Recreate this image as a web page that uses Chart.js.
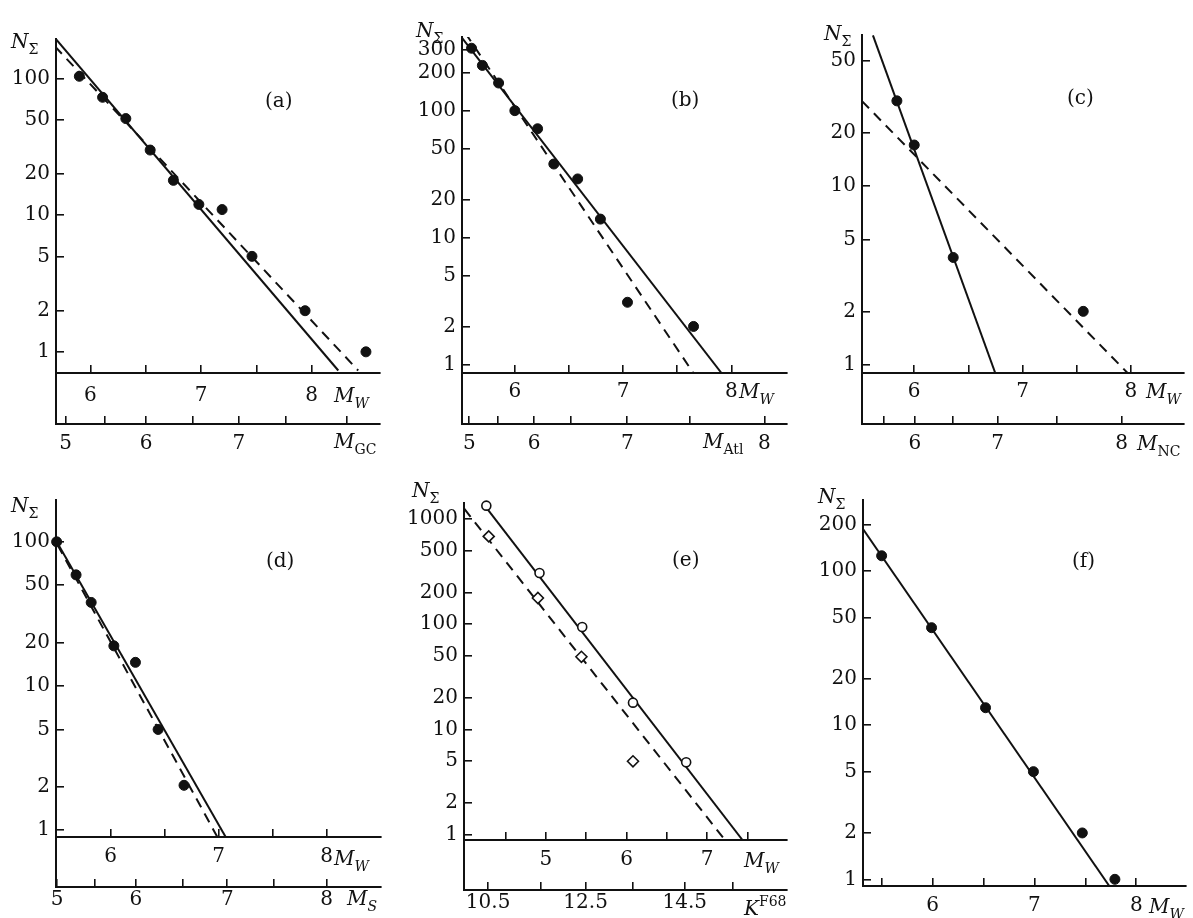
<!DOCTYPE html>
<html>
<head>
<meta charset="utf-8">
<script src="https://cdn.jsdelivr.net/npm/chart.js@4.4.1/dist/chart.umd.min.js"></script>
<style>
  html, body { margin: 0; padding: 0; background: #fff; }
  #page { position: relative; width: 1193px; height: 918px; overflow: hidden;
          font-family: 'DejaVu Serif', 'Liberation Serif', serif; color: #111; }
  .panel { position: absolute; }
  .t { position: absolute; font-size: 20px; line-height: 1; white-space: nowrap; }
  .t i { font-style: italic; }
  .sb { font-size: 14px; position: relative; top: 6px; }
  .sp { font-size: 14px; position: relative; top: -9px; }
</style>
</head>
<body>
<div id="page"></div>
<script>
// (a) cumulative number vs M_W, with M_GC scale below
const aMw = [5.90, 6.11, 6.32, 6.54, 6.75, 6.98, 7.19, 7.46, 7.94, 8.49];
const aN = [104, 73, 51, 30, 18, 12, 11, 5, 2, 1];
const aSolidMw = [5.69, 8.24], aSolidN = [194, 0.73];
const aDashMw = [5.68, 8.42], aDashN = [172, 0.73];
const aMwTicks = [6, 6.5, 7, 7.5, 8], aMwLabels = ['6', '', '7', '', '8'];
const aGcTicks = [5.775, 6.129, 6.503, 6.922, 7.342, 7.767, 8.315];
const aGcLabels = ['5', '', '6', '', '7', '', ''];
const aNTicks = [1, 2, 5, 10, 20, 50, 100];

// (b) M_Atl
const bMw = [5.60, 5.70, 5.85, 6.00, 6.21, 6.36, 6.58, 6.79, 7.04, 7.65];
const bN = [310, 227, 165, 100, 72, 38, 29, 14, 3.1, 2];
const bSolidMw = [5.512, 7.908], bSolidN = [374, 0.86];
const bDashMw = [5.542, 7.648], bDashN = [409, 0.86];
const bMwTicks = [6, 6.5, 7, 7.5, 8], bMwLabels = ['6', '', '7', '', '8'];
const bAtlTicks = [5.579, 5.847, 6.177, 6.519, 7.038, 7.618, 8.305];
const bAtlLabels = ['5', '', '6', '', '7', '', '8'];
const bNTicks = [1, 2, 5, 10, 20, 50, 100, 200, 300];

// (c) M_NC
const cMw = [5.84, 6.00, 6.36, 7.56];
const cN = [30, 17, 4, 2];
const cSolidMw = [5.619, 6.748], cSolidN = [69.7, 0.905];
const cDashMw = [5.518, 7.969], cDashN = [29.9, 0.905];
const cMwTicks = [6, 6.5, 7, 7.5, 8], cMwLabels = ['6', '', '7', '', '8'];
const cNcTicks = [5.716, 6.006, 6.352, 6.769, 7.319, 7.914];
const cNcLabels = ['', '6', '', '7', '', '8'];
const cNTicks = [1, 2, 5, 10, 20, 50];

// (d) M_S
const dMw = [5.50, 5.68, 5.82, 6.03, 6.23, 6.44, 6.68];
const dN = [100, 59, 38, 19, 14.6, 5, 2.05];
const dSolidMw = [5.494, 7.066], dSolidN = [102, 0.898];
const dDashMw = [5.509, 6.989], dDashN = [95, 0.898];
const dMwTicks = [6, 6.5, 7, 7.5, 8], dMwLabels = ['6', '', '7', '', '8'];
const dMsTicks = [5.504, 5.856, 6.233, 6.667, 7.081, 7.510, 8.0];
const dMsLabels = ['5', '', '6', '', '7', '', '8'];
const dNTicks = [1, 2, 5, 10, 20, 50, 100];

// (e) K^F68, circles and diamonds
const eMw = [4.26, 4.92, 5.45, 6.08, 6.74];
const eN = [1330, 306, 94, 18, 4.9];
const eDiaMw = [4.29, 4.90, 5.44, 6.08];
const eDiaN = [680, 177, 49, 5];
const eSolidMw = [4.262, 7.439], eSolidN = [1267, 0.896];
const eDashMw = [3.988, 7.221], eDashN = [1239, 0.896];
const eMwTicks = [4.5, 5, 5.5, 6, 6.5, 7, 7.5], eMwLabels = ['', '5', '', '6', '', '7', ''];
const eKTicks = [4.282, 4.939, 5.492, 6.074, 6.722, 7.316];
const eKLabels = ['10.5', '', '12.5', '', '14.5', ''];
const eNTicks = [1, 2, 5, 10, 20, 50, 100, 200, 500, 1000];

// (f) M_W only
const fMw = [5.50, 5.99, 6.52, 6.99, 7.47, 7.79];
const fN = [126, 43, 13, 5, 2, 1];
const fSolidMw = [5.317, 7.735], fSolidN = [188, 0.905];
const fMwTicks = [5.5, 6, 6.5, 7, 7.5, 8], fMwLabels = ['', '6', '', '7', '', '8'];
const fNTicks = [1, 2, 5, 10, 20, 50, 100, 200];

const INK = '#111';
const FONT = { family: "'DejaVu Serif', 'Liberation Serif', serif", size: 20 };
const page = document.getElementById('page');

const pts = (xs, ys) => xs.map((x, i) => ({ x, y: ys[i] }));

// y axis line continues down to the second x axis
const axisJoin = {
  id: 'axisJoin',
  afterDraw(chart) {
    const x2 = chart.scales.x2;
    if (!x2) return;
    const { ctx, chartArea } = chart;
    ctx.save();
    ctx.strokeStyle = INK;
    ctx.lineWidth = 2;
    ctx.beginPath();
    ctx.moveTo(chartArea.left, chartArea.bottom);
    ctx.lineTo(chartArea.left, x2.top + 1);
    ctx.stroke();
    ctx.restore();
  }
};

function xAxis(ticks, labels, h, pad, weight) {
  return {
    type: 'linear', position: 'bottom', weight,
    afterBuildTicks: s => { s.ticks = ticks.map(v => ({ value: v })); },
    afterFit: s => { s.height = h; },
    grid: { drawOnChartArea: false, tickLength: -8, lineWidth: 1.6, color: INK },
    border: { color: INK, width: 2 },
    ticks: { font: FONT, color: INK, padding: pad, autoSkip: false, maxRotation: 0,
             callback: (v, i) => labels[i] }
  };
}

function makePanel(p) {
  const div = document.createElement('div');
  div.className = 'panel';
  const [L, T, W, H] = p.box;
  Object.assign(div.style, { left: L + 'px', top: T + 'px', width: W + 'px', height: H + 'px' });
  const cv = document.createElement('canvas');
  cv.width = W; cv.height = H;
  div.appendChild(cv);
  page.appendChild(div);

  const datasets = [];
  p.dots.forEach(d => datasets.push({
    data: pts(d.x, d.y), showLine: false, clip: false,
    pointStyle: d.style || 'circle', pointRadius: d.r || 5,
    pointBackgroundColor: d.open ? '#fff' : INK, pointBorderColor: INK,
    pointBorderWidth: d.open ? 1.6 : 1
  }));
  p.lines.forEach(l => datasets.push({
    data: pts(l.x, l.y), showLine: true, pointRadius: 0,
    borderColor: INK, borderWidth: 2, borderDash: l.dash ? [10, 7] : []
  }));

  const mw = xAxis(p.mwTicks, p.mwLabels, p.x1h, p.x1pad, 0);
  mw.min = p.xr[0]; mw.max = p.xr[1];
  const scales = {
    x: mw,
    y: {
      type: 'logarithmic', position: 'left', min: p.yr[0], max: p.yr[1],
      afterBuildTicks: s => { s.ticks = p.yTicks.map(v => ({ value: v })); },
      afterFit: s => { s.width = p.yW; },
      grid: { drawOnChartArea: false, tickLength: -8, lineWidth: 1.6, color: INK },
      border: { color: INK, width: 2 },
      ticks: { font: FONT, color: INK, padding: 14, autoSkip: false, callback: v => String(v) }
    }
  };
  if (p.x2Ticks) {
    const x2 = xAxis(p.x2Ticks, p.x2Labels, p.x2h, p.x2pad, 1);
    x2.min = p.xr[0]; x2.max = p.xr[1];
    scales.x2 = x2;
  }

  new Chart(cv, {
    type: 'scatter',
    data: { datasets },
    options: {
      responsive: false, animation: false, devicePixelRatio: 1,
      layout: { padding: { top: p.padTop, right: 4, left: 0, bottom: 0 } },
      plugins: { legend: { display: false }, tooltip: { enabled: false } },
      scales
    },
    plugins: [axisJoin]
  });
}

const panels = [
  { box: [0, 0, 386, 460], yW: 56, padTop: 39, x1h: 51, x2h: 36, x1pad: 19, x2pad: 16,
    xr: [5.689, 8.617], yr: [0.727, 195], yTicks: aNTicks,
    mwTicks: aMwTicks, mwLabels: aMwLabels, x2Ticks: aGcTicks, x2Labels: aGcLabels,
    dots: [{ x: aMw, y: aN }],
    lines: [{ x: aSolidMw, y: aSolidN }, { x: aDashMw, y: aDashN, dash: true }] },
  { box: [402, 0, 391, 460], yW: 60, padTop: 37, x1h: 51, x2h: 36, x1pad: 15, x2pad: 16,
    xr: [5.512, 8.513], yr: [0.86, 380], yTicks: bNTicks,
    mwTicks: bMwTicks, mwLabels: bMwLabels, x2Ticks: bAtlTicks, x2Labels: bAtlLabels,
    dots: [{ x: bMw, y: bN }],
    lines: [{ x: bSolidMw, y: bSolidN }, { x: bDashMw, y: bDashN, dash: true }] },
  { box: [802, 0, 388, 460], yW: 60, padTop: 35, x1h: 51, x2h: 36, x1pad: 15, x2pad: 16,
    xr: [5.518, 8.49], yr: [0.905, 70], yTicks: cNTicks,
    mwTicks: cMwTicks, mwLabels: cMwLabels, x2Ticks: cNcTicks, x2Labels: cNcLabels,
    dots: [{ x: cMw, y: cN }],
    lines: [{ x: cSolidMw, y: cSolidN }, { x: cDashMw, y: cDashN, dash: true }] },
  { box: [0, 460, 387, 458], yW: 56, padTop: 40, x1h: 50, x2h: 31, x1pad: 16, x2pad: 9,
    xr: [5.494, 8.505], yr: [0.898, 195], yTicks: dNTicks,
    mwTicks: dMwTicks, mwLabels: dMwLabels, x2Ticks: dMsTicks, x2Labels: dMsLabels,
    dots: [{ x: dMw, y: dN }],
    lines: [{ x: dSolidMw, y: dSolidN }, { x: dDashMw, y: dDashN, dash: true }] },
  { box: [402, 460, 392, 458], yW: 62, padTop: 43, x1h: 50, x2h: 28, x1pad: 16, x2pad: 9,
    xr: [3.983, 7.99], yr: [0.896, 1410], yTicks: eNTicks,
    mwTicks: eMwTicks, mwLabels: eMwLabels, x2Ticks: eKTicks, x2Labels: eKLabels,
    dots: [{ x: eMw, y: eN, open: true, r: 4.5 }, { x: eDiaMw, y: eDiaN, open: true, r: 5.5, style: 'rectRot' }],
    lines: [{ x: eSolidMw, y: eSolidN }, { x: eDashMw, y: eDashN, dash: true }] },
  { box: [802, 460, 390, 458], yW: 61, padTop: 40, x1h: 32, x1pad: 16,
    xr: [5.317, 8.488], yr: [0.905, 290], yTicks: fNTicks,
    mwTicks: fMwTicks, mwLabels: fMwLabels,
    dots: [{ x: fMw, y: fN }],
    lines: [{ x: fSolidMw, y: fSolidN }] }
];
panels.forEach(makePanel);

// axis titles and panel letters (left, cap top)
const NS = '<i>N</i><span class="sb">&Sigma;</span>';
const MW = '<i>M</i><span class="sb"><i>W</i></span>';
const texts = [
  [NS, 11, 33], ['(a)', 265, 92], [MW, 334, 387], ['<i>M</i><span class="sb">GC</span>', 334, 433],
  [NS, 416, 22], ['(b)', 671, 91], [MW, 739, 383], ['<i>M</i><span class="sb">Atl</span>', 703, 433],
  [NS, 824, 25], ['(c)', 1067, 89], [MW, 1146, 383], ['<i>M</i><span class="sb">NC</span>', 1137, 435],
  [NS, 11, 497], ['(d)', 266, 552], [MW, 334, 850], ['<i>M</i><span class="sb"><i>S</i></span>', 347, 890],
  [NS, 412, 482], ['(e)', 672, 551], [MW, 744, 852], ['<i>K</i><span class="sp">F68</span>', 744, 900],
  [NS, 818, 488], ['(f)', 1072, 552], [MW, 1149, 898]
];
texts.forEach(([html, x, y]) => {
  const s = document.createElement('div');
  s.className = 't';
  s.innerHTML = html;
  s.style.left = x + 'px';
  s.style.top = (y - 2) + 'px';
  page.appendChild(s);
});
</script>
</body>
</html>
